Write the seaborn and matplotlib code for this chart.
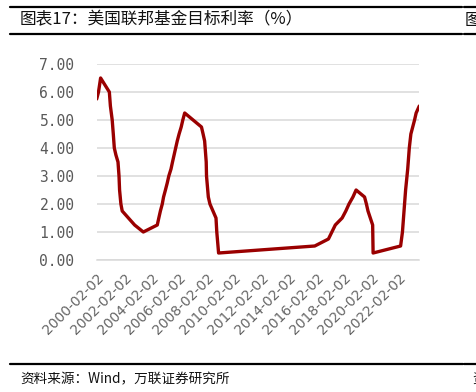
import matplotlib
matplotlib.use("Agg")
import matplotlib.pyplot as plt
import matplotlib.dates as mdates
from matplotlib.lines import Line2D
import seaborn as sns
import pandas as pd

# ---- data ----
dates = [
    "2000-02-02", "2000-03-21", "2000-05-16", "2001-01-03", "2001-01-31", "2001-03-20",
    "2001-04-18", "2001-05-15", "2001-06-27", "2001-08-21", "2001-09-17", "2001-10-02",
    "2001-11-06", "2001-12-11", "2002-11-06", "2003-06-25", "2004-06-30", "2004-08-10",
    "2004-09-21", "2004-11-10", "2004-12-14", "2005-02-02", "2005-03-22", "2005-05-03",
    "2005-06-30", "2005-08-09", "2005-09-20", "2005-11-01", "2005-12-13", "2006-01-31",
    "2006-03-28", "2006-05-10", "2006-06-29", "2007-09-18", "2007-10-31", "2007-12-11",
    "2008-01-22", "2008-01-30", "2008-03-18", "2008-04-30", "2008-10-08", "2008-10-29",
    "2008-12-16", "2015-12-16", "2016-12-14", "2017-03-15", "2017-06-14", "2017-12-13",
    "2018-03-21", "2018-06-13", "2018-09-26", "2018-12-19", "2019-08-01", "2019-09-19",
    "2019-10-31", "2020-03-03", "2020-03-15", "2022-03-16", "2022-05-04", "2022-06-15",
    "2022-07-27", "2022-09-21", "2022-11-02", "2022-12-14", "2023-02-01", "2023-03-22",
    "2023-05-03", "2023-07-26",
]
rates = [
    5.75, 6.00, 6.50, 6.00, 5.50, 5.00,
    4.50, 4.00, 3.75, 3.50, 3.00, 2.50,
    2.00, 1.75, 1.25, 1.00, 1.25, 1.50,
    1.75, 2.00, 2.25, 2.50, 2.75, 3.00,
    3.25, 3.50, 3.75, 4.00, 4.25, 4.50,
    4.75, 5.00, 5.25, 4.75, 4.50, 4.25,
    3.50, 3.00, 2.25, 2.00, 1.50, 1.00,
    0.25, 0.50, 0.75, 1.00, 1.25, 1.50,
    1.75, 2.00, 2.25, 2.50, 2.25, 2.00,
    1.75, 1.25, 0.25, 0.50, 1.00, 1.75,
    2.50, 3.25, 4.00, 4.50, 4.75, 5.00,
    5.25, 5.50,
]
xtick_labels = ["2000-02-02", "2002-02-02", "2004-02-02", "2006-02-02", "2008-02-02",
                "2010-02-02", "2012-02-02", "2014-02-02", "2016-02-02", "2018-02-02",
                "2020-02-02", "2022-02-02"]
yticks = [0, 1, 2, 3, 4, 5, 6, 7]
title = "图表17：美国联邦基金目标利率（%）"
source = "资料来源：Wind，万联证券研究所"

df = pd.DataFrame({"date": pd.to_datetime(dates), "rate": rates})

sns.set_style("white")
plt.rcParams["font.family"] = ["Noto Sans CJK SC", "DejaVu Sans"]

fig = plt.figure(figsize=(4.77, 3.92), dpi=100)
ax = fig.add_axes([96.7 / 477, 1 - 260 / 392, (419.3 - 96.7) / 477, (260 - 64) / 392])

sns.lineplot(data=df, x="date", y="rate", ax=ax, color="#9A0000", linewidth=2.4)

ax.set_ylim(0, 7)
ax.set_xlim(df["date"].iloc[0], df["date"].iloc[-1])
ax.set_yticks(yticks)
ax.set_yticklabels([f"{v:.2f}" for v in yticks], family="DejaVu Sans Mono",
                   fontsize=10.5, color="#595959")
ax.tick_params(axis="y", length=0, pad=16)

xt = mdates.date2num(pd.to_datetime(xtick_labels))
ax.set_xticks(xt)
ax.set_xticklabels(xtick_labels, rotation=45, ha="right", va="top",
                   rotation_mode="anchor", fontsize=10, color="#666666",
                   family="DejaVu Sans")
ax.tick_params(axis="x", length=4, width=1, color="#D9D9D9", pad=4)

ax.grid(axis="y", color="#D9D9D9", linewidth=1.1)
ax.set_axisbelow(True)
for s in ["left", "right", "top"]:
    ax.spines[s].set_visible(False)
ax.spines["bottom"].set_color("#D9D9D9")
ax.spines["bottom"].set_linewidth(1.1)
ax.set_xlabel("")
ax.set_ylabel("")

# header / footer decoration
def hline(y, x0, x1, lw):
    fig.add_artist(Line2D([x0 / 477, x1 / 477], [1 - y / 392, 1 - y / 392],
                          color="black", linewidth=lw, transform=fig.transFigure))

for y in (6.5, 33.5):
    hline(y, 10, 462.5, 1.6)
    hline(y, 464, 477, 1.6)
hline(363.5, 10, 463, 1.6)
hline(363.5, 464.5, 477, 1.6)

fig.text(20 / 477, 1 - 20 / 392, title, fontsize=12, va="center", ha="left",
         color="#111111")
fig.text(465 / 477, 1 - 20 / 392, "图", fontsize=12, va="center", ha="left",
         color="#111111")
fig.text(20 / 477, 1 - 379 / 392, source, fontsize=9.8, va="center", ha="left",
         color="#111111", style="italic")
fig.text(472 / 477, 1 - 379 / 392, "资", fontsize=9.8, va="center", ha="left",
         color="#111111")

fig.savefig("out.png", dpi=100)
